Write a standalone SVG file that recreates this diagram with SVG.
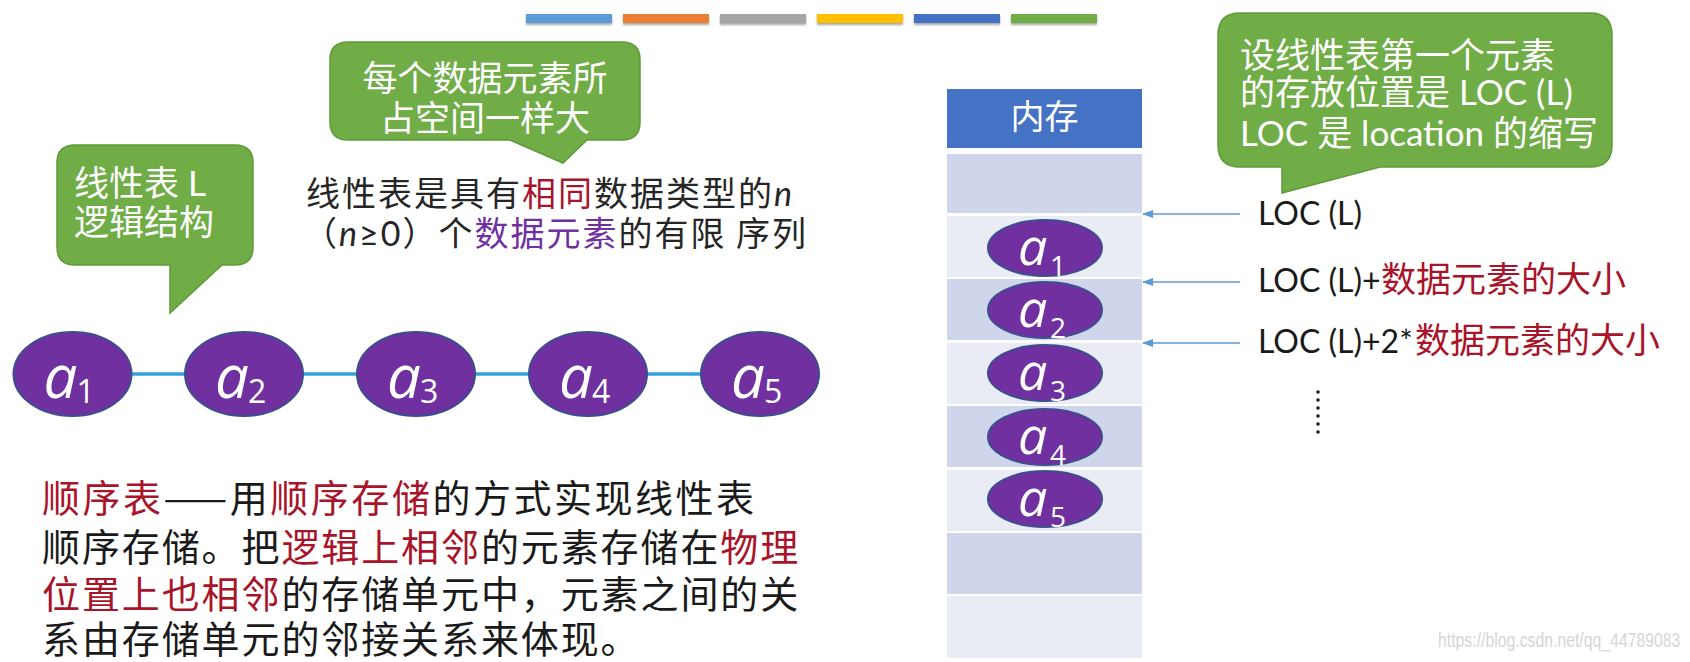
<svg xmlns="http://www.w3.org/2000/svg" width="1690" height="662" viewBox="0 0 1690 662">
<defs>
<style>
.cjk { font-family: "Noto Sans CJK SC", sans-serif; }
.callout { fill: #70AD47; stroke: #5E9A3A; stroke-width: 1.5; }
.ctext { fill: #ffffff; font-family: Lato, "Noto Sans CJK SC", sans-serif; font-size: 35px; }
.el { fill: #7030A0; stroke: #3D4E8E; stroke-width: 2; }
.ea { font-family: "Open Sans", "Noto Sans", sans-serif; font-style: italic; fill: #ffffff; }
.es { font-family: "Open Sans", "Noto Sans", sans-serif; fill: #ffffff; }
.red { fill: #A8152A; }
.pur { fill: #7030A0; }
.cellA { fill: #CFD5EA; }
.cellB { fill: #E9EBF5; }
.chain { stroke: #35A0DC; stroke-width: 3.5; }
.arrow { stroke: #5B9BD5; stroke-width: 1.6; fill: none; marker-end: url(#ah); }
.body { font-family: "Noto Sans CJK SC", sans-serif; font-size: 38px; letter-spacing: 1.9px; fill: #1a1a1a; }
.top { font-family: "Noto Sans CJK SC", sans-serif; font-size: 34px; letter-spacing: 2px; fill: #262626; }
.loc { font-family: Lato, "Noto Sans CJK SC", sans-serif; font-size: 32px; fill: #1a1a1a; }
.locr { font-family: "Noto Sans CJK SC", sans-serif; font-size: 35px; fill: #A8152A; }
</style>
<marker id="ah" markerWidth="11" markerHeight="8" refX="10" refY="4" orient="auto" markerUnits="userSpaceOnUse">
<path d="M0,0 L11,4 L0,8 Z" fill="#5B9BD5"/>
</marker>
<filter id="sh" x="-10%" y="-50%" width="120%" height="250%">
<feDropShadow dx="0" dy="2" stdDeviation="1.2" flood-color="#000" flood-opacity="0.35"/>
</filter>
</defs>
<rect width="1690" height="662" fill="#ffffff"/>

<g id="color-bars" filter="url(#sh)">
<rect x="526" y="14" width="86" height="9" fill="#5B9BD5"/>
<rect x="623" y="14" width="86" height="9" fill="#ED7D31"/>
<rect x="720" y="14" width="86" height="9" fill="#A5A5A5"/>
<rect x="817" y="14" width="86" height="9" fill="#FFC000"/>
<rect x="914" y="14" width="86" height="9" fill="#4472C4"/>
<rect x="1011" y="14" width="86" height="9" fill="#70AD47"/>
</g>

<g id="callout-logic">
<path class="callout" d="M75,145 H235 Q253,145 253,163 V247 Q253,265 235,265 H222 L170,313 V265 H75 Q57,265 57,247 V163 Q57,145 75,145 Z"/>
<text class="ctext" x="74" y="196">线性表 L</text>
<text class="ctext" x="74" y="235">逻辑结构</text>
</g>

<g id="callout-size">
<path class="callout" d="M348,42 H622 Q640,42 640,60 V122 Q640,140 622,140 H587 L563,163 L510,140 H348 Q330,140 330,122 V60 Q330,42 348,42 Z"/>
<text class="ctext" x="485" y="91" text-anchor="middle" font-size="36">每个数据元素所</text>
<text class="ctext" x="485" y="131" text-anchor="middle" font-size="36">占空间一样大</text>
</g>

<g id="definition">
<text class="top" x="306" y="206">线性表是具有<tspan class="red">相同</tspan>数据类型的<tspan font-family="Lato, sans-serif" font-style="italic">n</tspan></text>
<text class="top" x="303" y="246">（<tspan font-family="Lato, sans-serif" font-style="italic">n</tspan><tspan font-family="Lato, sans-serif">≥0</tspan>）个<tspan class="pur">数据元素</tspan>的有限 序列</text>
</g>

<g id="connectors">
<line class="chain" x1="131" y1="374" x2="186" y2="374"/>
<line class="chain" x1="302" y1="374" x2="358" y2="374"/>
<line class="chain" x1="474" y1="374" x2="530" y2="374"/>
<line class="chain" x1="646" y1="374" x2="702" y2="374"/>
<line class="arrow" x1="1240" y1="214" x2="1143" y2="214"/>
<line class="arrow" x1="1240" y1="282" x2="1143" y2="282"/>
<line class="arrow" x1="1240" y1="343" x2="1143" y2="343"/>
</g>

<g id="a1">
<ellipse class="el" cx="72.5" cy="374" rx="59" ry="42"/>
<text class="ea" x="43.5" y="398" font-size="60">a</text><text class="es" x="76.5" y="403" font-size="32">1</text>
</g>
<g id="a2">
<ellipse class="el" cx="244" cy="374" rx="59" ry="42"/>
<text class="ea" x="215" y="398" font-size="60">a</text><text class="es" x="248" y="403" font-size="32">2</text>
</g>
<g id="a3">
<ellipse class="el" cx="416" cy="374" rx="59" ry="42"/>
<text class="ea" x="387" y="398" font-size="60">a</text><text class="es" x="420" y="403" font-size="32">3</text>
</g>
<g id="a4">
<ellipse class="el" cx="588" cy="374" rx="59" ry="42"/>
<text class="ea" x="559" y="398" font-size="60">a</text><text class="es" x="592" y="403" font-size="32">4</text>
</g>
<g id="a5">
<ellipse class="el" cx="760" cy="374" rx="59" ry="42"/>
<text class="ea" x="731" y="398" font-size="60">a</text><text class="es" x="764" y="403" font-size="32">5</text>
</g>

<g id="explanation">
<text class="body" x="42" y="512" textLength="714" lengthAdjust="spacing"><tspan class="red">顺序表</tspan>——用<tspan class="red">顺序存储</tspan>的方式实现线性表</text>
<text class="body" x="42" y="561">顺序存储。把<tspan class="red">逻辑上相邻</tspan>的元素存储在<tspan class="red">物理</tspan></text>
<text class="body" x="42" y="608"><tspan class="red">位置上也相邻</tspan>的存储单元中，元素之间的关</text>
<text class="body" x="42" y="653">系由存储单元的邻接关系来体现。</text>
</g>

<g id="memory">
<rect x="947" y="89" width="195" height="59" fill="#4472C4"/>
<text x="1044.5" y="129" text-anchor="middle" class="cjk" font-size="34" fill="#ffffff">内存</text>
<rect class="cellA" x="947" y="154" width="195" height="59"/>
<rect class="cellB" x="947" y="216" width="195" height="61"/>
<rect class="cellA" x="947" y="279" width="195" height="61"/>
<rect class="cellB" x="947" y="343" width="195" height="61"/>
<rect class="cellA" x="947" y="406" width="195" height="61"/>
<rect class="cellB" x="947" y="470" width="195" height="61"/>
<rect class="cellA" x="947" y="533" width="195" height="61"/>
<rect class="cellB" x="947" y="596" width="195" height="62"/>
</g>

<g id="m-a1">
<ellipse class="el" cx="1045" cy="248" rx="57" ry="28"/>
<text class="ea" x="1018" y="265" font-size="52">a</text><text class="es" x="1050" y="276" font-size="28">1</text>
</g>
<g id="m-a2">
<ellipse class="el" cx="1045" cy="310" rx="57" ry="28"/>
<text class="ea" x="1018" y="327" font-size="52">a</text><text class="es" x="1050" y="338" font-size="28">2</text>
</g>
<g id="m-a3">
<ellipse class="el" cx="1045" cy="373" rx="57" ry="28"/>
<text class="ea" x="1018" y="390" font-size="52">a</text><text class="es" x="1050" y="401" font-size="28">3</text>
</g>
<g id="m-a4">
<ellipse class="el" cx="1045" cy="437" rx="57" ry="28"/>
<text class="ea" x="1018" y="454" font-size="52">a</text><text class="es" x="1050" y="465" font-size="28">4</text>
</g>
<g id="m-a5">
<ellipse class="el" cx="1045" cy="499" rx="57" ry="28"/>
<text class="ea" x="1018" y="516" font-size="52">a</text><text class="es" x="1050" y="527" font-size="28">5</text>
</g>

<g id="callout-loc">
<path class="callout" d="M1240,13 H1590 Q1612,13 1612,35 V145 Q1612,167 1590,167 H1380 L1282,193 V167 H1240 Q1218,167 1218,145 V35 Q1218,13 1240,13 Z"/>
<text class="ctext" x="1240" y="68">设线性表第一个元素</text>
<text class="ctext" x="1240" y="105">的存放位置是 LOC (L)</text>
<text class="ctext" x="1240" y="146">LOC 是 location 的缩写</text>
</g>

<g id="loc-labels">
<text class="loc" x="1258" y="225">LOC (L)</text>
<text class="loc" x="1258" y="292">LOC (L)+<tspan class="locr" x="1381">数据元素的大小</tspan></text>
<text class="loc" x="1258" y="353">LOC (L)+2*<tspan class="locr" x="1415">数据元素的大小</tspan></text>
<g id="ellipsis-dots" fill="#1a1a1a">
<circle cx="1318" cy="392" r="1.8"/>
<circle cx="1318" cy="400" r="1.8"/>
<circle cx="1318" cy="408" r="1.8"/>
<circle cx="1318" cy="416" r="1.8"/>
<circle cx="1318" cy="424" r="1.8"/>
<circle cx="1318" cy="432" r="1.8"/>
</g>
</g>

<text transform="translate(1438,647) scale(0.79,1)" x="0" y="0" font-family="Liberation Sans, sans-serif" font-size="20" fill="#d6d6d6">https://blog.csdn.net/qq_44789083</text>
</svg>
